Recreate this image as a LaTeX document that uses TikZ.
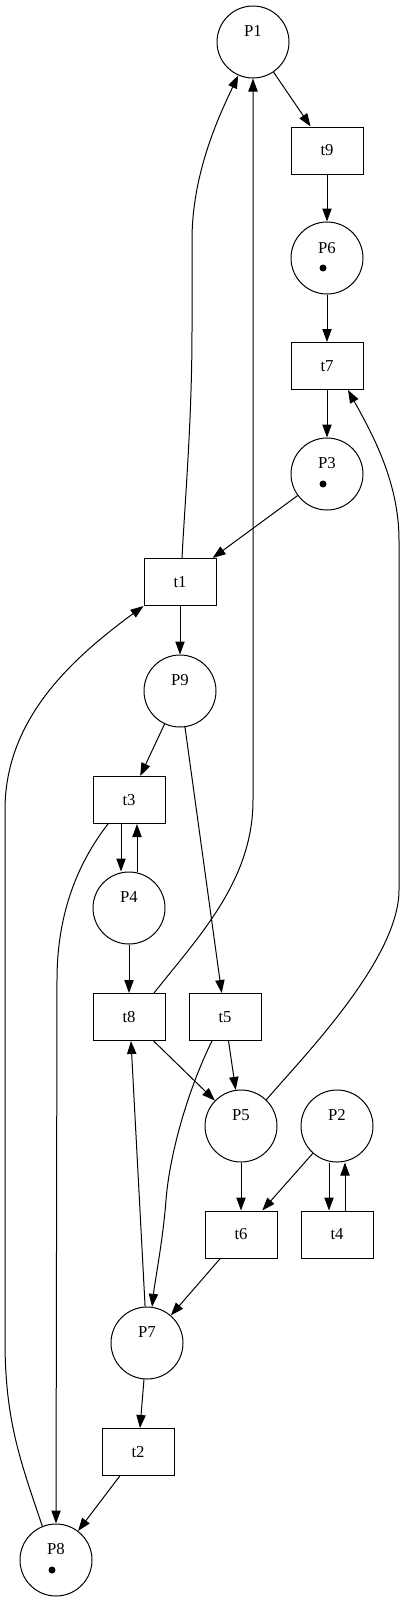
\documentclass[tikz,border=0pt]{standalone}
\usepackage{fontspec}
\setmainfont{Liberation Serif}
\usetikzlibrary{arrows.meta}
\begin{document}
\begin{tikzpicture}[x=1pt,y=-1pt,
  place/.style={draw,circle,minimum size=72pt,inner sep=0pt,line width=1pt},
  trans/.style={draw,rectangle,minimum width=72pt,minimum height=47pt,inner sep=0pt,line width=1pt,font=\fontsize{16.7}{20}\selectfont},
  lbl/.style={inner sep=0pt,font=\fontsize{16.7}{20}\selectfont},
  tok/.style={circle,fill=black,minimum size=7pt,inner sep=0pt},
  arc/.style={-{Triangle[length=13pt,width=9.3pt]},line width=1pt}]
\useasboundingbox (0,0) rectangle (405,1601);
% places
\node[place] (P1) at (253,42) {};   \node[lbl] (P1l) at (253,31) {P1};
\node[place] (P6) at (327,258) {};  \node[lbl] (P6l) at (327,248) {P6};
\node[tok] (P6d) at (323,268) {};
\node[place] (P3) at (327,474) {};  \node[lbl] (P3l) at (327,463) {P3};
\node[tok] (P3d) at (323,484) {};
\node[place] (P9) at (180,691) {};  \node[lbl] (P9l) at (180,680) {P9};
\node[place] (P4) at (129,908) {};  \node[lbl] (P4l) at (129,897) {P4};
\node[place] (P5) at (241,1126) {}; \node[lbl] (P5l) at (241,1115) {P5};
\node[place] (P2) at (337,1126) {}; \node[lbl] (P2l) at (337,1115) {P2};
\node[place] (P7) at (147,1343) {}; \node[lbl] (P7l) at (147,1332) {P7};
\node[place] (P8) at (56,1560) {};  \node[lbl] (P8l) at (56,1549) {P8};
\node[tok] (P8d) at (52,1570) {};
% transitions
\node[trans] (t9) at (327,150.5) {t9};
\node[trans] (t7) at (327,366) {t7};
\node[trans] (t1) at (180,582) {t1};
\node[trans] (t3) at (129,800) {t3};
\node[trans] (t8) at (129,1017) {t8};
\node[trans] (t5) at (225,1017) {t5};
\node[trans] (t6) at (241,1234.5) {t6};
\node[trans] (t4) at (337,1234.5) {t4};
\node[trans] (t2) at (138,1452) {t2};
% straight arcs
\draw[arc] (P1) -- (t9);
\draw[arc] (t9) -- (P6);
\draw[arc] (P6) -- (t7);
\draw[arc] (t7) -- (P3);
\draw[arc] (P3) -- (t1);
\draw[arc] (t1) -- (P9);
\draw[arc] (P9) -- (t3);
\draw[arc] (P9) -- (t5);
\draw[arc] ([xshift=-8pt]t3.south) -- ([xshift=-8pt]P4.north);
\draw[arc] ([xshift=8pt]P4.north) -- ([xshift=8pt]t3.south);
\draw[arc] (P4) -- (t8);
\draw[arc] (t8) -- (P5);
\draw[arc] (t5) -- (P5);
\draw[arc] (P5) -- (t6);
\draw[arc] (P2) -- (t6);
\draw[arc] ([xshift=-8pt]P2.south) -- ([xshift=-8pt]t4.north);
\draw[arc] ([xshift=8pt]t4.north) -- ([xshift=8pt]P2.south);
\draw[arc] (t6) -- (P7);
\draw[arc] (P7) -- (t2);
\draw[arc] (t2) -- (P8);
\draw[arc] (P7.93) -- ([xshift=2pt]t8.south);
% curved arcs
\draw[arc] ([xshift=2pt]t1.north) .. controls (185,500) and (192,420) .. (192,330)
   -- (192,240) .. controls (192,170) and (222,110) .. (P1.246);
\draw[arc] ([xshift=25pt]t8.north) .. controls (200,935) and (253,880) .. (253,800) -- (P1.south);
\draw[arc] (P5.46) .. controls (300,1060) and (399,960) .. (399,890) -- (399,540)
   .. controls (399,480) and (370,430) .. ([xshift=21pt]t7.south);
\draw[arc] ([xshift=-21pt]t3.south) .. controls (80,860) and (57,910) .. (57,980) -- (P8.north);
\draw[arc] ([xshift=-13pt]t5.south) .. controls (190,1085) and (170,1150) .. (166,1200)
   .. controls (163,1240) and (155,1280) .. (P7.82);
\draw[arc] (P8.112) .. controls (20,1460) and (5,1420) .. (5,1340) -- (5,810)
   .. controls (5,720) and (70,660) .. (t1.south west);
\end{tikzpicture}
\end{document}
